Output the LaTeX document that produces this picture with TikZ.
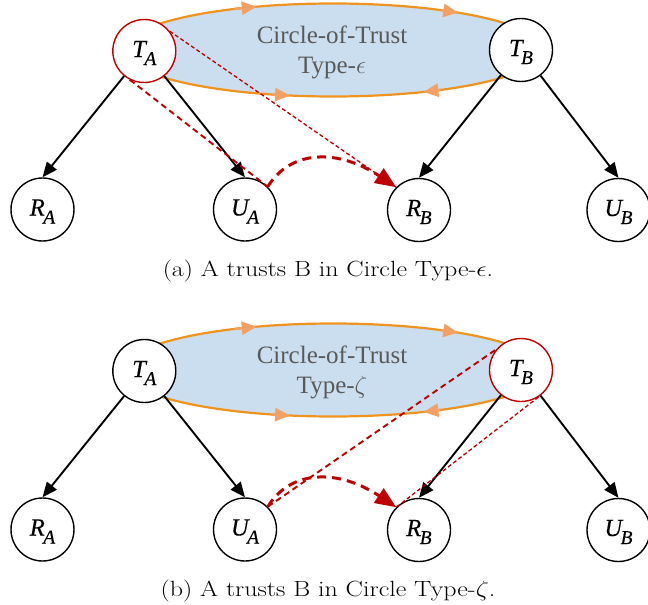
\RequirePackage{fix-cm}
\documentclass[tikz,border=0pt]{standalone}
\usepackage{fontspec}
\newfontfamily\tnr{Liberation Serif}
\newfontfamily\lblfont{Liberation Serif}[FakeBold=0.25]
\usetikzlibrary{arrows.meta}
\definecolor{cotfill}{RGB}{203,222,240}
\definecolor{cotline}{RGB}{238,148,30}
\definecolor{cotarrow}{RGB}{243,160,100}
\definecolor{trustred}{RGB}{192,0,0}
\definecolor{cotgray}{RGB}{89,89,89}
\newcommand{\plabel}[2]{\itshape #1\kern-1.5pt\raisebox{-8pt}{\fontsize{19.5}{20}\selectfont #2}}
\tikzset{
  party/.style={circle, draw=black, line width=1.4pt, fill=white, minimum size=63pt, inner sep=0pt,
    text height=20pt, text depth=8pt, font=\lblfont\fontsize{24.5}{28}\selectfont},
  redparty/.style={party, draw=trustred},
  blackarrow/.style={line width=1.9pt, -{Triangle[length=15pt,width=12.5pt]}},
  cot/.style={draw=cotline, line width=2.2pt, fill=cotfill},
  cotarr/.style={draw=cotarrow, line width=2.6pt, -{Triangle[length=15pt,width=13pt]}},
  cottext/.style={font=\tnr\fontsize{25}{30}\selectfont, text=cotgray, anchor=base},
  thindash/.style={draw=trustred, line width=1.3pt, dash pattern=on 4pt off 2.5pt},
  meddash/.style={draw=trustred, line width=1.9pt, dash pattern=on 6pt off 4pt},
  thickdash/.style={draw=trustred, line width=3pt, dash pattern=on 9pt off 6pt, -{Triangle[length=21pt,width=17pt]}},
  caption/.style={font=\fontsize{22}{26}\selectfont, anchor=base}
}
\begin{document}
\begin{tikzpicture}[x=1pt, y=-1pt]
\useasboundingbox (0,0) rectangle (648,605);
% ================= panel (a) =================
\coordinate (Ea) at (333,50);
\draw[cot] (Ea) ellipse [x radius=210pt, y radius=46.5pt];
\path (Ea) ++(118:210pt and 46.5pt) coordinate (a1s) (Ea) ++(111.3:210pt and 46.5pt) coordinate (a1e);
\path (Ea) ++(59:210pt and 46.5pt) coordinate (a2s) (Ea) ++(53.4:210pt and 46.5pt) coordinate (a2e);
\path (Ea) ++(253:210pt and 46.5pt) coordinate (a3s) (Ea) ++(258.2:210pt and 46.5pt) coordinate (a3e);
\path (Ea) ++(301:210pt and 46.5pt) coordinate (a4s) (Ea) ++(295.5:210pt and 46.5pt) coordinate (a4e);
\draw[cotarr] (a1s) -- (a1e);
\draw[cotarr] (a2s) -- (a2e);
\draw[cotarr] (a3s) -- (a3e);
\draw[cotarr] (a4s) -- (a4e);
\node[cottext] (cta1) at (332,43.3) {Circle-of-Trust};
\node[cottext] (cta2) at (332,73.3) {Type-$\epsilon$};

\node[redparty] (TAa) at (144.3,51) {\plabel{T}{A}};
\node[party] (TBa) at (521,50) {\plabel{T}{B}};
\node[party] (RAa) at (42.5,209.5) {\plabel{R}{A}};
\node[party] (UAa) at (245,209.5) {\plabel{U}{A}};
\node[party] (RBa) at (419,210) {\plabel{R}{B}};
\node[party] (UBa) at (618.5,210) {\plabel{U}{B}};

\draw[blackarrow] (TAa) -- (RAa.north);
\draw[blackarrow] (TAa) -- (UAa.north);
\draw[blackarrow] (TBa) -- (RBa.north);
\draw[blackarrow] (TBa) -- (UBa.north);

\draw[thindash] (TAa.38) -- (RBa.north west);
\draw[meddash] (TAa.243) -- (UAa.north east);
\draw[thickdash] (UAa.north east) .. controls +(23.3,-38) and +(-57,-38) .. (RBa.north west);

\node[caption] (capa) at (328,276) {\scalebox{1.18}[1]{(a) A trusts B in Circle Type-$\epsilon$.}};

% ================= panel (b) =================
\coordinate (Eb) at (333,370);
\draw[cot] (Eb) ellipse [x radius=210pt, y radius=46.5pt];
\path (Eb) ++(118:210pt and 46.5pt) coordinate (b1s) (Eb) ++(111.3:210pt and 46.5pt) coordinate (b1e);
\path (Eb) ++(59:210pt and 46.5pt) coordinate (b2s) (Eb) ++(53.4:210pt and 46.5pt) coordinate (b2e);
\path (Eb) ++(253:210pt and 46.5pt) coordinate (b3s) (Eb) ++(258.2:210pt and 46.5pt) coordinate (b3e);
\path (Eb) ++(301:210pt and 46.5pt) coordinate (b4s) (Eb) ++(295.5:210pt and 46.5pt) coordinate (b4e);
\draw[cotarr] (b1s) -- (b1e);
\draw[cotarr] (b2s) -- (b2e);
\draw[cotarr] (b3s) -- (b3e);
\draw[cotarr] (b4s) -- (b4e);
\node[cottext] (ctb1) at (332,363.3) {Circle-of-Trust};
\node[cottext] (ctb2) at (332,393.3) {Type-$\zeta$};

\node[party] (TAb) at (144.3,371) {\plabel{T}{A}};
\node[redparty] (TBb) at (521,370) {\plabel{T}{B}};
\node[party] (RAb) at (42.5,529.5) {\plabel{R}{A}};
\node[party] (UAb) at (245,529.5) {\plabel{U}{A}};
\node[party] (RBb) at (419,530) {\plabel{R}{B}};
\node[party] (UBb) at (618.5,530) {\plabel{U}{B}};

\draw[blackarrow] (TAb) -- (RAb.north);
\draw[blackarrow] (TAb) -- (UAb.north);
\draw[blackarrow] (TBb) -- (RBb.north);
\draw[blackarrow] (TBb) -- (UBb.north);

\draw[meddash] (UAb.north east) -- (TBb.140);
\draw[thindash] (TBb.303) -- (RBb.north west);
\draw[thickdash] (UAb.north east) .. controls +(23.3,-38) and +(-57,-38) .. (RBb.north west);

\node[caption] (capb) at (328,596) {\scalebox{1.18}[1]{(b) A trusts B in Circle Type-$\zeta$.}};
\end{tikzpicture}
\end{document}
